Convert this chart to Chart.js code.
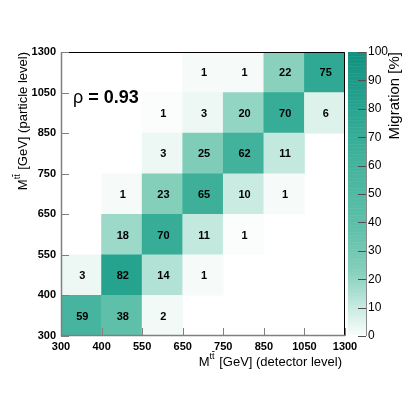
<!DOCTYPE html>
<html>
<head>
<meta charset="utf-8">
<script src="https://cdn.jsdelivr.net/npm/chart.js@4"></script>
<style>
html, body { margin: 0; padding: 0; background: #fff; }
</style>
</head>
<body>
<canvas id="migrationChart" width="407" height="395"></canvas>
<script>
// bin edges (same binning on both axes)
const xEdges = ['300', '400', '550', '650', '750', '850', '1050', '1300'];
const yEdges = ['300', '400', '550', '650', '750', '850', '1050', '1300'];
const detectorBins = ['300-400', '400-550', '550-650', '650-750', '750-850', '850-1050', '1050-1300'];

// migration in %, one array per particle-level bin (bottom to top), columns = detector-level bins
const row300 = [59, 38, 2, null, null, null, null];
const row400 = [3, 82, 14, 1, null, null, null];
const row550 = [null, 18, 70, 11, 0.6, null, null];
const row650 = [null, 1, 23, 65, 10, 1, null];
const row750 = [null, null, 3, 25, 62, 11, null];
const row850 = [null, null, 0.6, 3, 20, 70, 6];
const row1050 = [null, null, null, 1, 1, 22, 75];
const migration = [row300, row400, row550, row650, row750, row850, row1050];

const correlation = '0.93';
const colorbarTicks = [0, 10, 20, 30, 40, 50, 60, 70, 80, 90, 100];

// palette: white -> teal
const paletteStops = [
    [0, [255, 255, 255]],
    [1, [246, 251, 250]],
    [3, [237, 248, 244]],
    [10, [201, 235, 225]],
    [14, [178, 226, 213]],
    [18, [156, 217, 200]],
    [23, [132, 207, 186]],
    [38, [95, 192, 170]],
    [59, [70, 180, 158]],
    [70, [55, 173, 151]],
    [82, [37, 163, 143]],
    [100, [18, 145, 127]],
];

function colorFor(v) {
    for (let i = 1; i < paletteStops.length; i++) {
        const [v1, c1] = paletteStops[i];
        const [v0, c0] = paletteStops[i - 1];
        if (v <= v1) {
            const t = (v - v0) / (v1 - v0);
            const c = c0.map((c, k) => Math.round(c + (c1[k] - c) * t));
            return `rgb(${c[0]},${c[1]},${c[2]})`;
        }
    }
    const last = paletteStops[paletteStops.length - 1][1];
    return `rgb(${last[0]},${last[1]},${last[2]})`;
}

const FONT = '"Liberation Sans", Arial, Helvetica, sans-serif';

// draws "M^tt̄" followed by the rest of the title
function drawMassTitle(ctx, rest, x, y, align) {
    const big = '13px ' + FONT, small = '9px ' + FONT;
    ctx.font = big;
    const wM = ctx.measureText('M').width;
    const wRest = ctx.measureText(rest).width;
    ctx.font = small;
    const wT = ctx.measureText('t').width;
    const total = wM + 2 * wT + 1 + wRest;
    let x0 = align === 'right' ? x - total : x;
    ctx.textBaseline = 'middle';
    ctx.textAlign = 'left';
    ctx.font = big;
    ctx.fillText('M', x0, y);
    ctx.font = small;
    ctx.fillText('tt', x0 + wM, y - 5);
    ctx.beginPath();
    ctx.lineWidth = 0.8;
    ctx.moveTo(x0 + wM + wT, y - 10.5);
    ctx.lineTo(x0 + wM + 2 * wT, y - 10.5);
    ctx.stroke();
    ctx.font = big;
    ctx.fillText(rest, x0 + wM + 2 * wT + 1, y);
}

const overlay = {
    id: 'overlay',
    afterDatasetsDraw(chart) {
        const ctx = chart.ctx;
        const area = chart.chartArea;
        const xs = chart.scales.xe, ys = chart.scales.y, zs = chart.scales.y2;
        ctx.save();

        // cell numbers
        ctx.font = 'bold 11px ' + FONT;
        ctx.fillStyle = '#000';
        ctx.textAlign = 'center';
        ctx.textBaseline = 'middle';
        chart.data.datasets.forEach((ds, di) => {
            const meta = chart.getDatasetMeta(di);
            meta.data.forEach((bar, i) => {
                const v = migration[di][i];
                if (v == null) return;
                const p = bar.getProps(['x', 'y', 'base'], true);
                ctx.fillText(String(Math.round(v)), p.x + 1, (p.y + p.base) / 2 + 1);
            });
        });

        // frame
        ctx.lineWidth = 1;
        ctx.strokeStyle = '#000';
        ctx.beginPath();
        ctx.moveTo(area.left, area.top + 0.5);
        ctx.lineTo(area.right - 0.5, area.top + 0.5);
        ctx.lineTo(area.right - 0.5, area.bottom);
        ctx.stroke();
        ctx.strokeStyle = '#808080';
        ctx.lineWidth = 1.5;
        ctx.beginPath();
        ctx.moveTo(area.left + 0.5, area.top);
        ctx.lineTo(area.left + 0.5, area.bottom - 0.5);
        ctx.lineTo(area.right, area.bottom - 0.5);
        ctx.stroke();

        // inward ticks
        ctx.lineWidth = 1;
        ctx.strokeStyle = '#808080';
        for (let i = 0; i < xEdges.length; i++) {
            const px = Math.round(xs.getPixelForValue(i)) + 0.5;
            ctx.beginPath();
            ctx.moveTo(px, area.bottom);
            ctx.lineTo(px, area.bottom - 8);
            ctx.stroke();
        }
        for (let i = 0; i < yEdges.length; i++) {
            const py = Math.round(ys.getPixelForValue(i)) + 0.5;
            ctx.beginPath();
            ctx.moveTo(area.left, py);
            ctx.lineTo(area.left + 8, py);
            ctx.stroke();
        }

        // colour bar
        const cbL = area.right + 3, cbR = area.right + 21;
        for (let v = 0; v < 100; v += 0.5) {
            const yTop = zs.getPixelForValue(v + 0.5), yBot = zs.getPixelForValue(v);
            ctx.fillStyle = colorFor(v + 0.25);
            ctx.fillRect(cbL, yTop, cbR - cbL, yBot - yTop + 0.5);
        }
        ctx.strokeStyle = '#8a8a8a';
        ctx.beginPath();
        ctx.moveTo(cbR + 0.5, area.top);
        ctx.lineTo(cbR + 0.5, area.bottom);
        ctx.stroke();
        ctx.strokeStyle = '#4d4d4d';
        colorbarTicks.forEach(t => {
            const py = Math.round(zs.getPixelForValue(t)) + 0.5;
            ctx.beginPath();
            ctx.moveTo(cbR, py);
            ctx.lineTo(cbR - 8, py);
            ctx.stroke();
        });

        // axis titles
        ctx.fillStyle = '#000';
        ctx.strokeStyle = '#000';
        drawMassTitle(ctx, ' [GeV] (detector level)', 342, 362, 'right');
        ctx.save();
        ctx.translate(23, 52);
        ctx.rotate(-Math.PI / 2);
        drawMassTitle(ctx, ' [GeV] (particle level)', 0, 0, 'right');
        ctx.restore();

        ctx.save();
        ctx.translate(395, 52);
        ctx.rotate(-Math.PI / 2);
        ctx.font = '15px ' + FONT;
        ctx.textAlign = 'right';
        ctx.textBaseline = 'middle';
        ctx.fillText('Migration [%]', 0, 0);
        ctx.restore();

        // correlation label
        ctx.textAlign = 'left';
        ctx.textBaseline = 'middle';
        ctx.font = '18px ' + FONT;
        ctx.fillText('\u03C1', 73, 98);
        const wRho = ctx.measureText('\u03C1').width;
        ctx.font = 'bold 18px ' + FONT;
        ctx.fillText(' = ' + correlation, 73 + wRho, 98);

        ctx.restore();
    }
};

const datasets = migration.map((row, r) => ({
    label: yEdges[r] + '-' + yEdges[r + 1],
    data: row.map(v => (v == null ? null : [r, r + 1])),
    backgroundColor: row.map(v => (v == null ? 'rgba(0,0,0,0)' : colorFor(v))),
    borderWidth: 0,
    barPercentage: 1,
    categoryPercentage: 1,
    grouped: false,
}));

new Chart(document.getElementById('migrationChart'), {
    type: 'bar',
    data: {
        labels: detectorBins,
        datasets: datasets,
    },
    options: {
        responsive: false,
        animation: false,
        devicePixelRatio: 1,
        layout: { padding: { top: 52, left: 0, right: 0, bottom: 0 } },
        plugins: {
            legend: { display: false },
            tooltip: { enabled: false },
        },
        scales: {
            x: { display: false },
            xe: {
                type: 'linear',
                position: 'bottom',
                offset: false,
                min: 0,
                max: 7,
                afterFit: s => { s.height = 59; },
                grid: { display: false, drawTicks: false, offset: false },
                border: { display: false },
                ticks: {
                    stepSize: 1,
                    padding: 4,
                    maxRotation: 0,
                    autoSkip: false,
                    color: '#000',
                    font: { family: FONT, size: 11, weight: 'bold' },
                    callback: v => xEdges[v],
                },
            },
            y: {
                type: 'linear',
                min: 0,
                max: 7,
                afterFit: s => { s.width = 61; },
                grid: { display: false, drawTicks: false },
                border: { display: false },
                ticks: {
                    stepSize: 1,
                    padding: 5,
                    autoSkip: false,
                    color: '#000',
                    font: { family: FONT, size: 11, weight: 'bold' },
                    callback: v => yEdges[v],
                },
            },
            y2: {
                type: 'linear',
                position: 'right',
                min: 0,
                max: 100,
                afterFit: s => { s.width = 62; },
                grid: { display: true, drawOnChartArea: false, drawTicks: true, tickLength: 22, color: 'rgba(0,0,0,0)' },
                border: { display: false },
                ticks: {
                    stepSize: 10,
                    padding: 1,
                    autoSkip: false,
                    color: '#000',
                    font: { family: FONT, size: 12 },
                },
            },
        },
    },
    plugins: [overlay],
});
</script>
</body>
</html>
